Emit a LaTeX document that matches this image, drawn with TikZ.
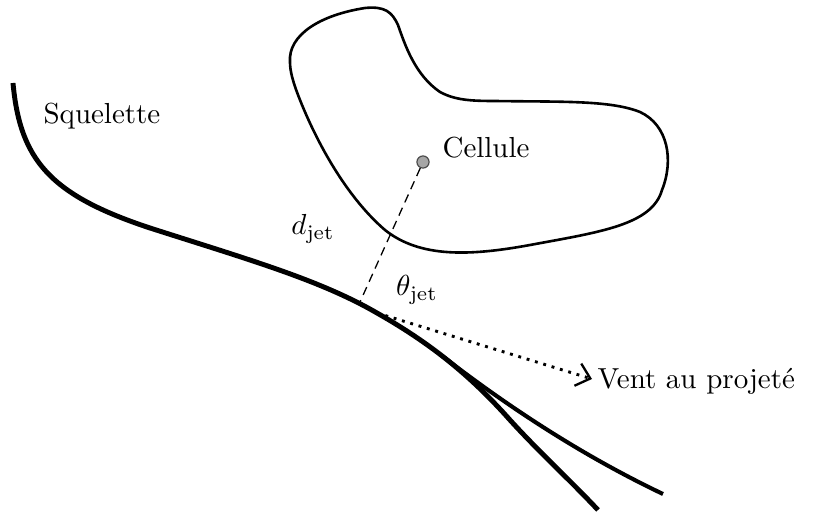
\documentclass[tikz,border=0pt]{standalone}
\usetikzlibrary{arrows.meta}
\begin{document}
\begin{tikzpicture}[x=0.345pt,y=-0.345pt,
  skel/.style={line width=1.7pt,line join=round,line cap=butt},
  branchline/.style={line width=1.4pt,line join=round},
  cellline/.style={line width=0.9pt},
  lbl/.style={inner sep=0pt}]
\useasboundingbox (0,0) rectangle (827,512);
% cell outline
\draw[cellline] (290,62) .. controls (288,35) and (320,15) .. (365,8)
  .. controls (385,6) and (392,12) .. (398,25)
  .. controls (405,45) and (415,75) .. (440,92)
  .. controls (455,100) and (470,101) .. (495,101)
  .. controls (560,102) and (610,100) .. (640,112)
  .. controls (668,125) and (674,160) .. (662,190)
  .. controls (652,225) and (600,232) .. (530,245)
  .. controls (470,256) and (420,258) .. (385,230)
  .. controls (350,200) and (320,150) .. (300,100)
  .. controls (292,80) and (290,70) .. (290,62) -- cycle;
% skeleton
\coordinate (s0) at (13,83);
\coordinate (s1) at (150,228);
\coordinate (s2) at (377,313);
\coordinate (s3) at (510,420);
\coordinate (s4) at (598,510);
\draw[skel] (s0) .. controls (20,160) and (50,195) .. (s1)
  .. controls (250,260) and (320,280) .. (s2)
  .. controls (430,343) and (470,375) .. coordinate[pos=0.45] (b0) (s3)
  .. controls (540,453) and (570,480) .. (s4);
\coordinate (b2) at (663,494);
\draw[branchline] (b0) .. controls ([shift={(38,29)}]b0) and (560,445) .. (b2);
% points
\coordinate (proj) at (360,302);
\coordinate (vstart) at (377,313);
\coordinate (vend) at (592,379);
\node[circle,draw=black!70,fill=black!35,line width=0.4pt,minimum size=4.2pt,inner sep=0pt] (cell) at (423,162) {};
\draw[dashed,line width=0.45pt,dash pattern=on 3pt off 2pt] (cell) -- (proj);
\draw[dotted,line width=1pt,-{Straight Barb[length=4.5pt,width=8pt,line width=0.8pt]}] (vstart) -- (vend);
% labels
\node[lbl,anchor=west] (lcell) at (442,148) {Cellule};
\node[lbl,anchor=west] (lsq) at (43,116) {Squelette};
\node[lbl] (ld) at (313,229) {$d_{\mathrm{jet}}$};
\node[lbl] (lt) at (417,290) {$\theta_{\mathrm{jet}}$};
\node[lbl,anchor=west] (lv) at (597,381) {Vent au projeté};
\end{tikzpicture}
\end{document}
